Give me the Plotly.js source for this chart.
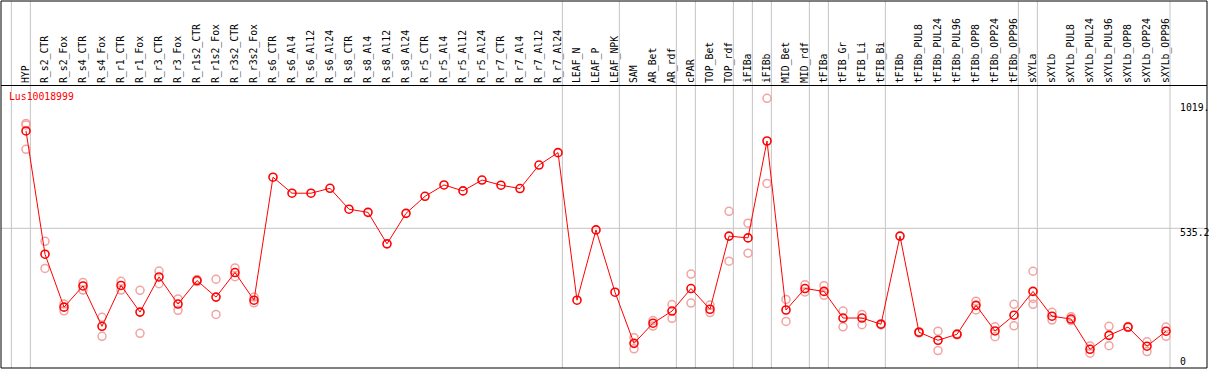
<!DOCTYPE html>
<html>
<head>
<meta charset="utf-8">
<script src="https://cdn.plot.ly/plotly-3.0.1.min.js"></script>
<style>
  html, body { margin: 0; padding: 0; background: #ffffff; }
  #chart { width: 1209px; height: 370px; }
</style>
</head>
<body>
<div id="chart"></div>
<script>
const chartTitle = 'Lus10018999';

const categories = [
  'HYP', 'R_s2_CTR', 'R_s2_Fox', 'R_s4_CTR', 'R_s4_Fox', 'R_r1_CTR', 'R_r1_Fox',
  'R_r3_CTR', 'R_r3_Fox', 'R_r1s2_CTR', 'R_r1s2_Fox', 'R_r3s2_CTR', 'R_r3s2_Fox',
  'R_s6_CTR', 'R_s6_Al4', 'R_s6_Al12', 'R_s6_Al24', 'R_s8_CTR', 'R_s8_Al4',
  'R_s8_Al12', 'R_s8_Al24', 'R_r5_CTR', 'R_r5_Al4', 'R_r5_Al12', 'R_r5_Al24',
  'R_r7_CTR', 'R_r7_Al4', 'R_r7_Al12', 'R_r7_Al24', 'LEAF_N', 'LEAF_P', 'LEAF_NPK',
  'SAM', 'AR_Bet', 'AR_rdf', 'cPAR', 'TOP_Bet', 'TOP_rdf', 'iFIBa', 'iFIBb',
  'MID_Bet', 'MID_rdf', 'tFIBa', 'tFIB_Gr', 'tFIB_Li', 'tFIB_Bi', 'tFIBb',
  'tFIBb_PUL8', 'tFIBb_PUL24', 'tFIBb_PUL96', 'tFIBb_OPP8', 'tFIBb_OPP24', 'tFIBb_OPP96',
  'sXYLa', 'sXYLb', 'sXYLb_PUL8', 'sXYLb_PUL24', 'sXYLb_PUL96', 'sXYLb_OPP8',
  'sXYLb_OPP24', 'sXYLb_OPP96'
];

// mean expression per sample
const meanValues = [
  912, 435, 230, 312, 156, 314, 211,
  347, 242, 333, 269, 364, 257,
  733, 671, 671, 690, 609, 597,
  475, 593, 659, 703, 680, 722,
  702, 689, 780, 828, 257, 529, 288,
  90, 168, 215, 302, 222, 505, 498, 873,
  219, 302, 291, 188, 188, 164, 505,
  133, 102, 125, 237, 138, 199,
  291, 195, 184, 67, 121, 153,
  79, 137
];

// individual replicates (null = none shown)
const replicateA = [
  941, 485, 242, 325, 191, 330, 295,
  370, 262, 337, 338, 382, 269,
  null, null, null, null, null, null,
  null, null, null, null, null, null,
  null, null, null, null, null, null, null,
  112, 178, 240, 358, 238, 601, 555, 1038,
  260, 317, 313, 215, 202, 166, null,
  135, 137, 127, 253, 154, 241,
  369, 210, 193, 80, 156, 155,
  96, 153
];
const replicateB = [
  935, 380, 216, 296, 117, 296, 129,
  321, 218, 329, 202, 348, 247,
  null, null, null, null, null, null,
  null, null, null, null, null, null,
  null, null, null, null, null, null, null,
  69, 157, 187, 246, 209, 408, 439, 709,
  175, 289, 276, 154, 162, 161, null,
  130, 62, 123, 219, 116, 158,
  264, 180, 178, 52, 81, 151,
  58, 117
];
const replicateC = [
  841, null, null, null, null, null, null,
  null, null, null, null, null, null,
  null, null, null, null, null, null,
  null, null, null, null, null, null,
  null, null, null, null, null, null, null,
  null, null, null, null, null, null, null, null,
  null, null, null, null, null, null, null,
  null, null, null, null, null, null,
  241, null, null, null, null, null,
  null, null
];

// group separators: positions between samples (category index units)
const groupBoundaries = [-0.77, 0.23, 28.23, 31.23, 34.23, 35.23, 37.23, 38.23, 39.23,
  41.23, 42.23, 45.23, 52.23, 53.23, 60.21];

// right-hand scale labels
const scaleValues = [1019, 535.2, 0];
const scaleLabels = ['1019.', '535.2', '0'];
const gridValue = 535.2;

const FONT = 'DejaVu Sans Mono, monospace';
const repColor = '#f2a3a3';

const repMarker = {symbol: 'circle-open', size: 8, color: repColor, line: {width: 1.5, color: repColor}};

const traces = [replicateA, replicateB, replicateC].map(r => ({
  type: 'scatter', mode: 'markers', x: categories, y: r,
  marker: repMarker, hoverinfo: 'skip', showlegend: false
}));
traces.push({
  type: 'scatter', mode: 'lines+markers', x: categories, y: meanValues,
  line: {color: '#ff0000', width: 1},
  marker: {symbol: 'circle-open', size: 8, color: '#ff0000', line: {width: 1.6, color: '#ff0000'}},
  showlegend: false
});

const shapes = groupBoundaries.map(b => ({
  type: 'line', xref: 'x', yref: 'paper', x0: b, x1: b, y0: 0, y1: 1,
  line: {color: '#c4c4c4', width: 1}, layer: 'below'
}));
shapes.push({
  type: 'line', xref: 'paper', yref: 'y', x0: 0, x1: 1, y0: gridValue, y1: gridValue,
  line: {color: '#c4c4c4', width: 1}, layer: 'below'
});
shapes.push({
  type: 'rect', xref: 'paper', yref: 'paper', x0: 0, x1: 1, y0: 0, y1: 1,
  line: {color: '#000000', width: 1}, layer: 'above'
});

const annotations = scaleValues.map((v, i) => ({
  xref: 'paper', yref: 'y', x: 0.9765, y: v,
  xanchor: 'left', yanchor: v === 0 ? 'bottom' : 'top',
  yshift: v === 0 ? -1 : 2,
  text: scaleLabels[i], showarrow: false, borderpad: 0,
  font: {family: FONT, size: 9.8, color: '#000000'}
}));

const layout = {
  width: 1209, height: 370,
  margin: {l: 1, r: 2, t: 1, b: 2, pad: 0},
  paper_bgcolor: '#ffffff', plot_bgcolor: '#ffffff',
  showlegend: false,
  title: {
    text: chartTitle, xref: 'container', yref: 'container',
    x: 0.0074, xanchor: 'left', y: 0.7378, yanchor: 'middle',
    font: {family: FONT, size: 9.8, color: '#ff0000'}
  },
  xaxis: {
    type: 'category', range: [-1.316, 62.158],
    side: 'top', anchor: 'free', position: 0.7711,
    tickmode: 'array', tickvals: categories, ticktext: categories,
    tickangle: -90, ticks: '', showgrid: false, zeroline: false,
    showline: true, linecolor: '#000000', linewidth: 1,
    tickfont: {family: FONT, size: 9.8, color: '#000000'},
    automargin: false, fixedrange: true
  },
  yaxis: {
    range: [-5.4, 1414.8], showgrid: false, zeroline: false,
    showticklabels: false, ticks: '', showline: false,
    automargin: false, fixedrange: true
  },
  shapes: shapes,
  annotations: annotations
};

Plotly.newPlot('chart', traces, layout, {displayModeBar: false, staticPlot: true});
</script>
</body>
</html>
